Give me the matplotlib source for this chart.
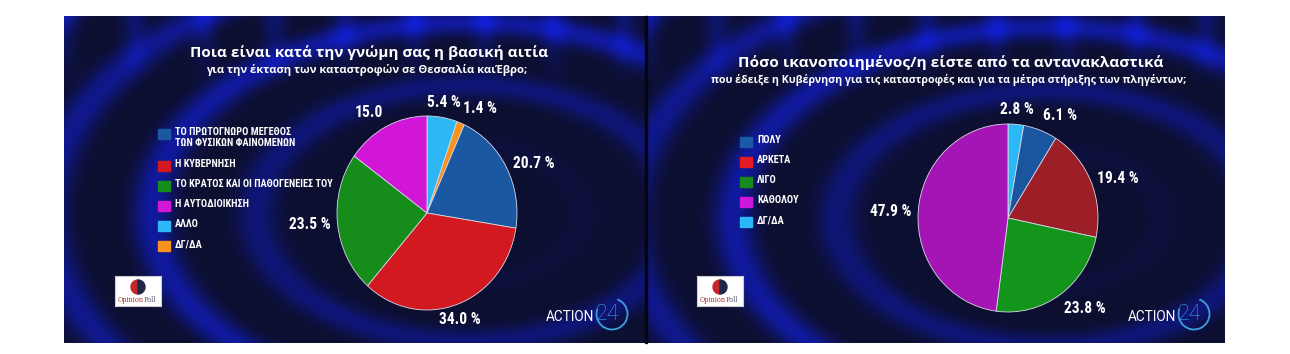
import numpy as np
import matplotlib
matplotlib.use("Agg")
import matplotlib.pyplot as plt
from matplotlib import font_manager
from matplotlib.patches import Rectangle, Wedge, Arc

W, H = 1290, 354

# ---- left chart: main cause of the disasters ----
title_1 = "Ποια είναι κατά την γνώμη σας η βασική αιτία"
subtitle_1 = "για την έκταση των καταστροφών σε Θεσσαλία καιΈβρο;"
legend_1 = ["ΤΟ ΠΡΩΤΟΓΝΩΡΟ ΜΕΓΕΘΟΣ\nΤΩΝ ΦΥΣΙΚΩΝ ΦΑΙΝΟΜΕΝΩΝ", "Η ΚΥΒΕΡΝΗΣΗ",
            "ΤΟ ΚΡΑΤΟΣ ΚΑΙ ΟΙ ΠΑΘΟΓΕΝΕΙΕΣ ΤΟΥ", "Η ΑΥΤΟΔΙΟΙΚΗΣΗ", "ΑΛΛΟ", "ΔΓ/ΔΑ"]
values_1 = [20.7, 34.0, 23.5, 15.0, 5.4, 1.4]
value_text_1 = ["20.7 %", "34.0 %", "23.5 %", "15.0", "5.4 %", "1.4 %"]
pie_order_1 = [4, 5, 0, 1, 2, 3]   # clockwise from 12 o'clock
pie_colors_1 = ["#1a58a2", "#d2191f", "#168c1a", "#d116d8", "#2db7f6", "#f7921f"]
legend_colors_1 = pie_colors_1

# ---- right chart: satisfaction with the government ----
title_2 = "Πόσο ικανοποιημένος/η είστε από τα αντανακλαστικά"
subtitle_2 = "που έδειξε η Κυβέρνηση για τις καταστροφές και για τα μέτρα στήριξης των πληγέντων;"
legend_2 = ["ΠΟΛΥ", "ΑΡΚΕΤΑ", "ΛΙΓΟ", "ΚΑΘΟΛΟΥ", "ΔΓ/ΔΑ"]
values_2 = [6.1, 19.4, 23.8, 47.9, 2.8]
value_text_2 = ["6.1 %", "19.4 %", "23.8 %", "47.9 %", "2.8 %"]
pie_order_2 = [4, 0, 1, 2, 3]
pie_colors_2 = ["#1a56a0", "#9c1f27", "#13941b", "#a515b6", "#2bb8f8"]
legend_colors_2 = ["#1b5aa8", "#e31b23", "#178c1c", "#cc18dc", "#2bb8f8"]

title_font = ["Open Sans", "DejaVu Sans"]


def pick_narrow():
    # pick a condensed bold face if one is installed
    names = {f.name for f in font_manager.fontManager.ttflist}
    for fam in ["Liberation Sans Narrow", "Roboto Condensed", "Open Sans Condensed"]:
        if fam in names:
            return dict(family=fam, stretch="normal"), 1.0
    fp = font_manager.FontProperties(family="DejaVu Sans", stretch="condensed", weight="bold")
    if "Condensed" in font_manager.findfont(fp):
        return dict(family="DejaVu Sans", stretch="condensed"), 0.97
    return dict(family="Roboto", stretch="normal"), 0.88


narrow, narrow_scale = pick_narrow()


def ax_px(x, y, w, h):
    return fig.add_axes([x / W, 1 - (y + h) / H, w / W, h / H])


def backdrop(w, h, cx, cy):
    # dark navy with blue swirl rings, just decoration
    yy, xx = np.mgrid[0:h, 0:w]
    r = np.hypot((xx - cx) / 1.5, (yy - cy) * 1.1)
    rings = (0.5 + 0.5 * np.cos(2 * np.pi * r / 70.0)) ** 2.5
    fade = np.clip((r - 60) / 160, 0, 1) * np.clip(1.3 - r / 420, 0, 1)
    stripes = (0.5 + 0.5 * np.cos(2 * np.pi * xx / 70.0)) ** 3 * np.clip(1 - yy / 70, 0, 1)
    glow = np.clip(rings * fade * 0.9 + stripes * 0.4, 0, 1)
    base = np.array([0.05, 0.06, 0.19])
    blue = np.array([0.07, 0.12, 0.82])
    return base + glow[..., None] * (blue - base)


def panel(x0, w, title, subtitle, title_y, sub_y, title_size, sub_size, legend, legend_colors, legend_y0,
          pie_c, pie_r, values, texts, order, pie_colors):
    bg = ax_px(x0, 16, w, 327)
    bg.imshow(backdrop(w, 327, pie_c[0] - x0 + 40, pie_c[1] - 16), extent=(0, w, 327, 0), aspect="auto")
    bg.set_xlim(0, w)
    bg.set_ylim(327, 0)
    bg.axis("off")

    bg.text(305, title_y, title, color="white", fontsize=title_size, fontweight="bold", family=title_font,
            ha="center", va="center")
    bg.text(303, sub_y, subtitle, color="white", fontsize=sub_size, fontweight="bold", family=title_font,
            ha="center", va="center")

    # legend
    extra = 0
    for i, (lab, col) in enumerate(zip(legend, legend_colors)):
        yc = legend_y0 + i * 20 + extra
        bg.add_patch(Rectangle((94, yc - 5), 12, 10, color=col))
        bg.text(111, yc - 7, lab, color="white", fontsize=7.4 * narrow_scale, fontweight="bold",
                ha="left", va="top", linespacing=1.15, **narrow)
        extra += 12 * lab.count("\n")

    # logos
    lg = ax_px(x0 + 51, 276, 46, 30)
    lg.set_xlim(0, 46)
    lg.set_ylim(30, 0)
    lg.set_xticks([])
    lg.set_yticks([])
    lg.set_facecolor("white")
    for s in lg.spines.values():
        s.set_color("#cccccc")
    lg.add_patch(Wedge((23, 11), 7, 90, 270, color="#c4262c"))
    lg.add_patch(Wedge((23, 11), 7, 270, 90, color="#1d2747"))
    lg.text(29, 23.5, "Opinion", color="#b02a30", fontsize=4.7, family="DejaVu Serif", ha="right", va="center")
    lg.text(29, 23.5, "Poll", color="#555577", fontsize=4.7, family="DejaVu Serif", ha="left", va="center")

    bg.text(482, 301, "ACTION", color="white", fontsize=9.8, family="Roboto",
            ha="left", va="center")
    bg.text(532, 298, "24", color="#3b9fe0", fontsize=15.5, family="Roboto", fontweight="light",
            ha="left", va="center")
    bg.add_patch(Arc((548, 298), 31, 31, theta1=-70, theta2=200, color="#3b9fe0", lw=1.3))

    # pie
    cx, cy = pie_c
    rx, ry = pie_r
    ax = ax_px(cx - rx, cy - ry, 2 * rx, 2 * ry)
    wedges, _ = ax.pie([values[i] for i in order], colors=[pie_colors[i] for i in order],
                       startangle=90, counterclock=False, radius=1,
                       wedgeprops=dict(linewidth=0.6, edgecolor="#d8d8e8"))
    ax.set_aspect("auto")
    ax.set_xlim(-1, 1)
    ax.set_ylim(-1, 1)
    ax.axis("off")
    for wdg, i in zip(wedges, order):
        ang = np.deg2rad((wdg.theta1 + wdg.theta2) / 2)
        c, s = np.cos(ang), np.sin(ang)
        ha = "left" if c > 0.35 else ("right" if c < -0.35 else "center")
        va = "bottom" if s > 0.7 else ("top" if s < -0.7 else "center")
        ax.text(1.08 * c, 1.08 * s, texts[i], color="white", fontsize=11.2 * narrow_scale, fontweight="bold",
                ha=ha, va=va, clip_on=False, **narrow)


fig = plt.figure(figsize=(W / 100, H / 100), dpi=100, facecolor="white")

panel(64, 581, title_1, subtitle_1, 37, 54, 11.0, 8.1, legend_1, legend_colors_1, 118,
      (427, 213), (90, 97), values_1, value_text_1, pie_order_1, pie_colors_1)
panel(646, 579, title_2, subtitle_2, 47, 64, 11.1, 7.7, legend_2, legend_colors_2, 126,
      (1008, 218), (90, 94), values_2, value_text_2, pie_order_2, pie_colors_2)

# thin separator between the two screens
fig.add_artist(Rectangle((645 / W, 1 - 343 / H), 1.5 / W, 327 / H, color="#05050f", transform=fig.transFigure))

fig.savefig("out.png", dpi=100, facecolor="white")
